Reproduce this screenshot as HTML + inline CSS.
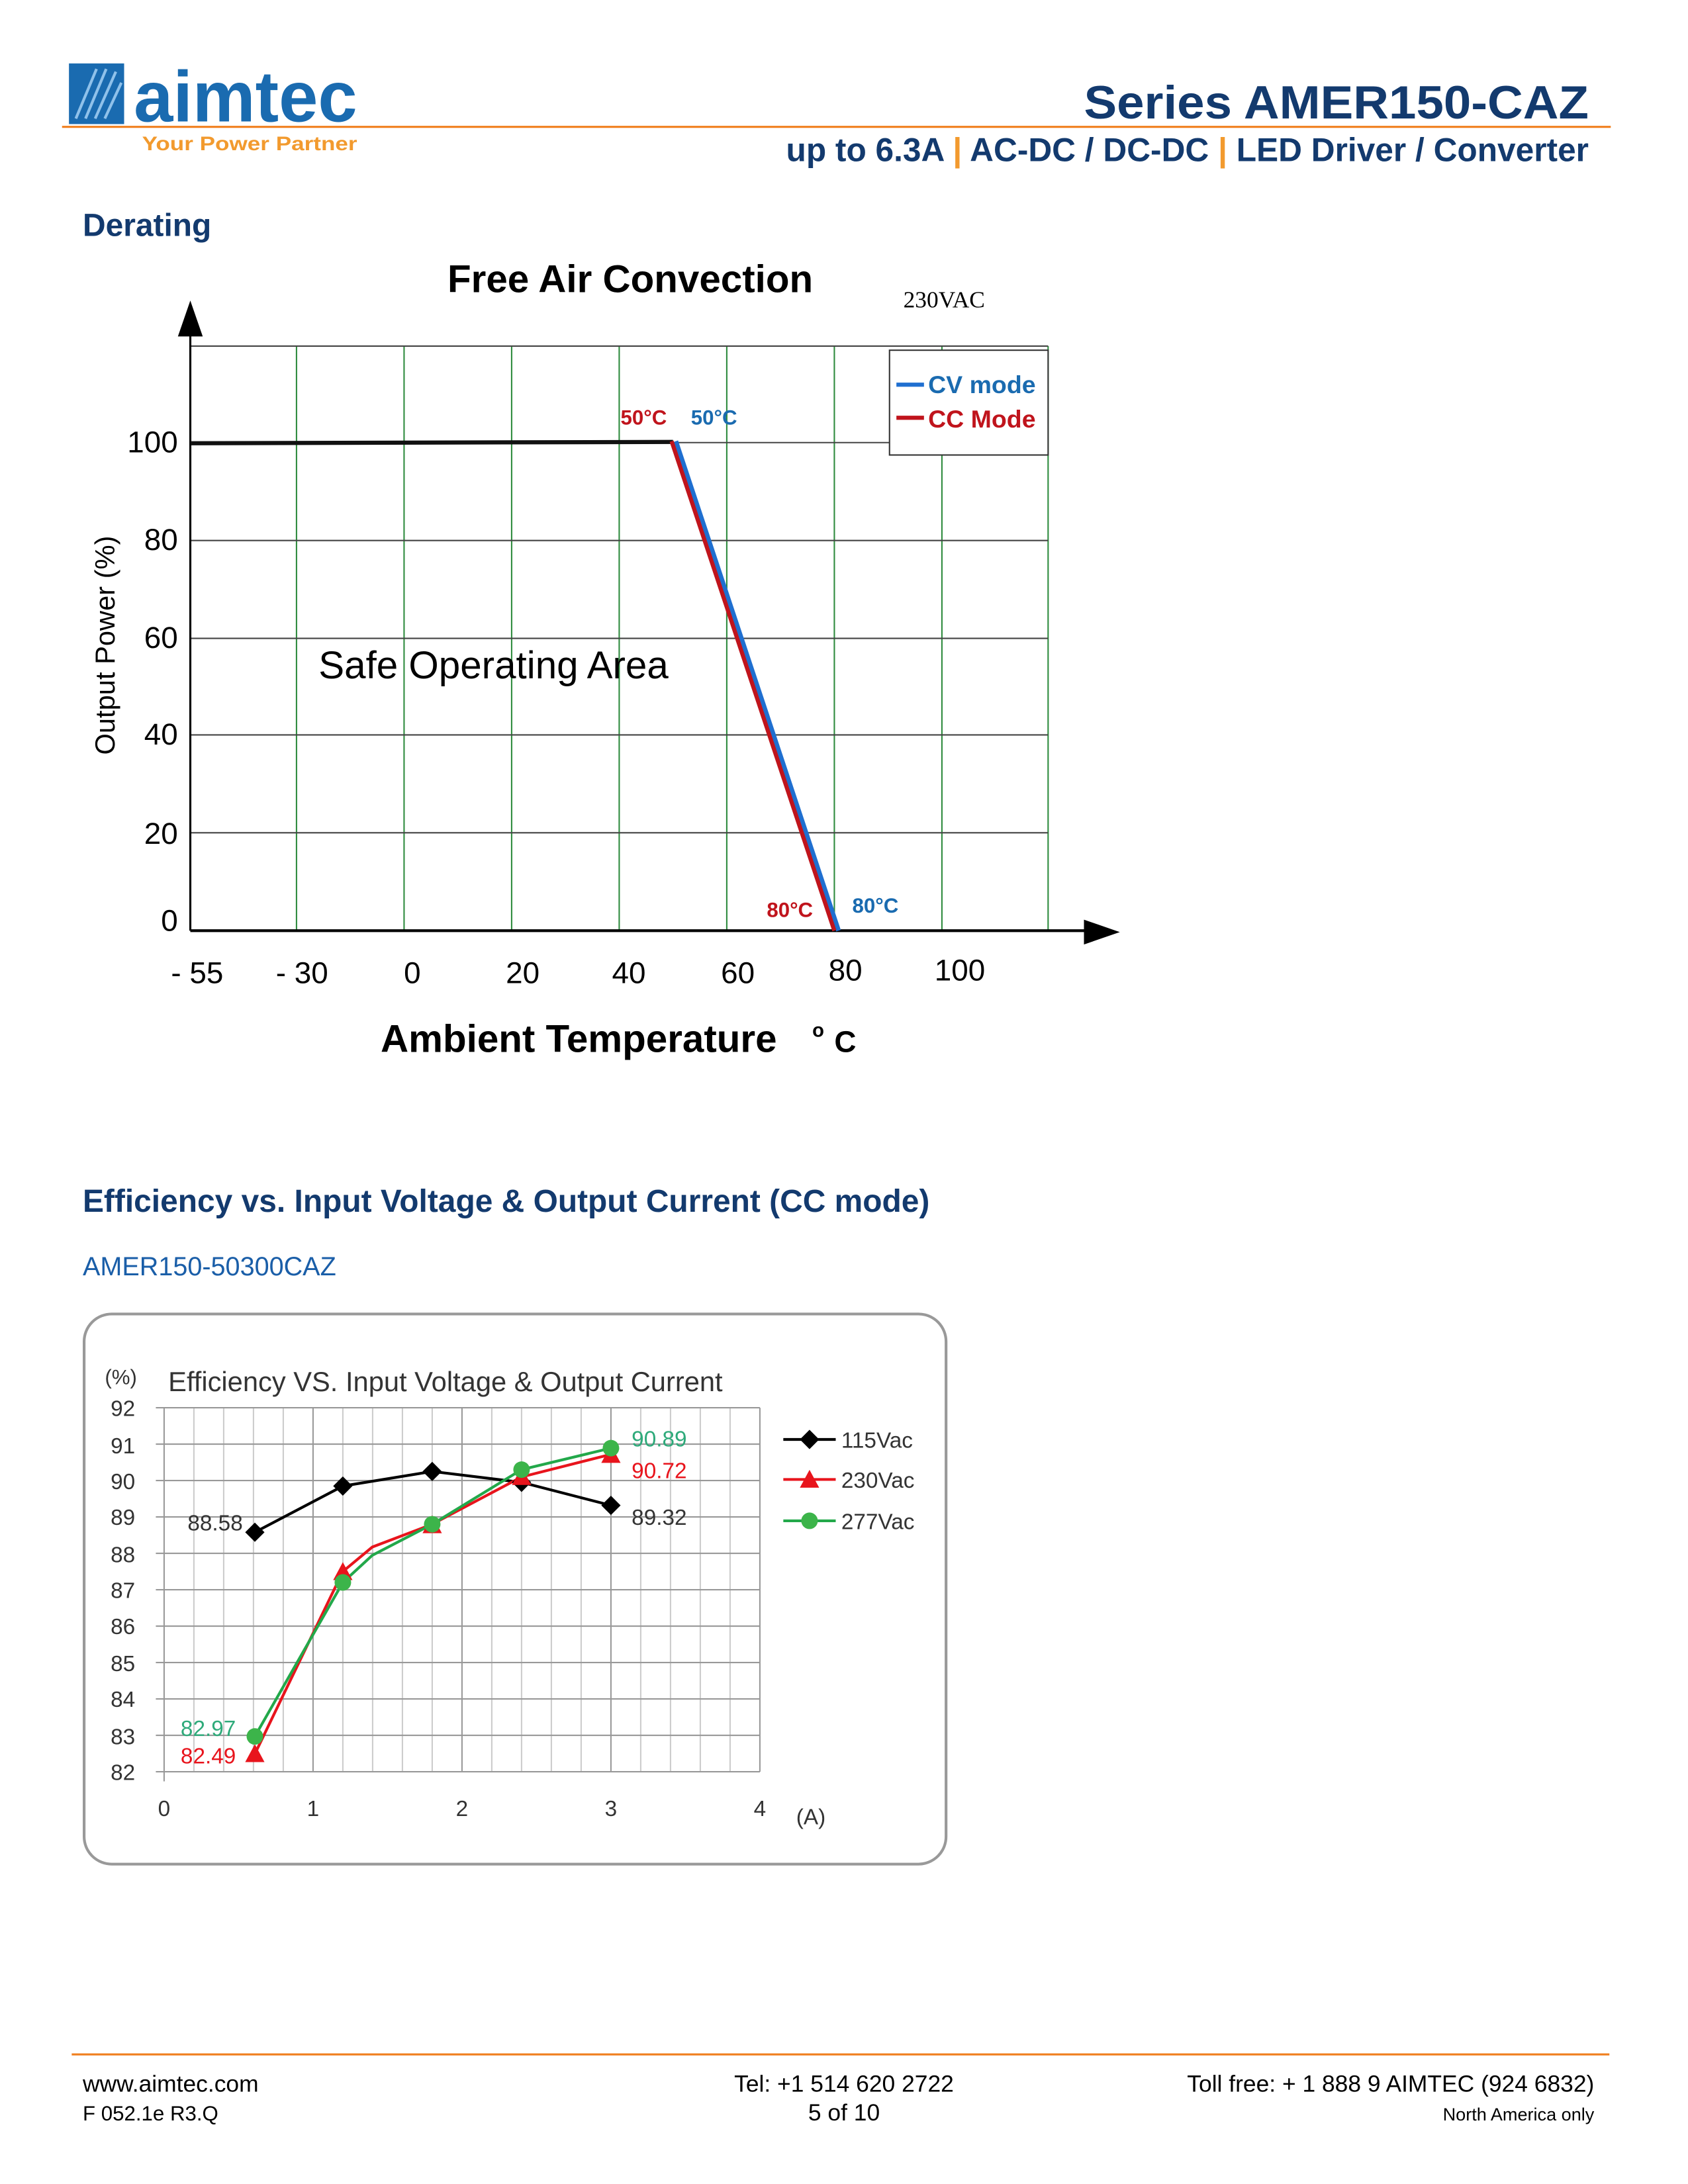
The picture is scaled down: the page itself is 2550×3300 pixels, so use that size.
<!DOCTYPE html>
<html><head><meta charset="utf-8"><style>
html,body{margin:0;padding:0;background:#fff;}
svg{display:block;}
text{font-family:"Liberation Sans",Arial,sans-serif;}
</style></head><body>
<svg width="2550" height="3300" viewBox="0 0 1224 1584" xmlns="http://www.w3.org/2000/svg">
<rect width="1224" height="1584" fill="#fff"/>
<!-- Header -->
<rect x="50" y="46" width="40" height="44" fill="#1a6bb0"/>
<path d="M55 86 L70 50 M62 86 L77 50 M69 86 L84 52 M76 86 L88 60" stroke="#8fc1ea" stroke-width="2"/>
<text x="97" y="88" font-size="52" font-weight="bold" fill="#1a6bb0" textLength="162" lengthAdjust="spacingAndGlyphs">aimtec</text>
<line x1="45" y1="92" x2="1168" y2="92" stroke="#f07f1e" stroke-width="1.5"/>
<text x="103" y="109" font-size="14" font-weight="bold" fill="#f29a2e" textLength="156" lengthAdjust="spacingAndGlyphs">Your Power Partner</text>
<text x="1152" y="86" font-size="34" font-weight="bold" fill="#133a6e" text-anchor="end" textLength="366" lengthAdjust="spacingAndGlyphs">Series AMER150-CAZ</text>
<text x="1152" y="117" font-size="24" font-weight="bold" fill="#133a6e" text-anchor="end" textLength="582" lengthAdjust="spacingAndGlyphs">up to 6.3A <tspan fill="#f29a2e">|</tspan> AC-DC / DC-DC <tspan fill="#f29a2e">|</tspan> LED Driver / Converter</text>
<text x="60" y="171" font-size="23" font-weight="bold" fill="#133a6e">Derating</text>

<!-- Derating chart -->
<text x="457" y="212" font-size="28" font-weight="bold" text-anchor="middle" fill="#000">Free Air Convection</text>
<text x="655" y="223" font-size="17" font-family="Liberation Serif,serif" fill="#000" style="font-family:'Liberation Serif',serif">230VAC</text>
<g stroke="#2e8b3e" stroke-width="1">
<line x1="215" y1="251" x2="215" y2="675"/><line x1="293" y1="251" x2="293" y2="675"/>
<line x1="371" y1="251" x2="371" y2="675"/><line x1="449" y1="251" x2="449" y2="675"/>
<line x1="527" y1="251" x2="527" y2="675"/><line x1="605" y1="251" x2="605" y2="675"/>
<line x1="683" y1="251" x2="683" y2="675"/><line x1="760" y1="251" x2="760" y2="675"/>
</g>
<g stroke="#444" stroke-width="1">
<line x1="138" y1="251" x2="760" y2="251"/><line x1="138" y1="321" x2="760" y2="321"/>
<line x1="138" y1="392" x2="760" y2="392"/><line x1="138" y1="463" x2="760" y2="463"/>
<line x1="138" y1="533" x2="760" y2="533"/><line x1="138" y1="604" x2="760" y2="604"/>
</g>
<line x1="138" y1="675" x2="795" y2="675" stroke="#000" stroke-width="2"/>
<polygon points="786,667 812,676 786,685" fill="#000"/>
<line x1="138" y1="675" x2="138" y2="238" stroke="#000" stroke-width="1.5"/>
<polygon points="129,244 138,218 147,244" fill="#000"/>
<g font-size="22" fill="#000" text-anchor="end">
<text x="129" y="328">100</text><text x="129" y="399">80</text><text x="129" y="470">60</text>
<text x="129" y="540">40</text><text x="129" y="612">20</text><text x="129" y="675">0</text>
</g>
<g font-size="22" fill="#000" text-anchor="middle">
<text x="143" y="713">- 55</text><text x="219" y="713">- 30</text><text x="299" y="713">0</text>
<text x="379" y="713">20</text><text x="456" y="713">40</text><text x="535" y="713">60</text>
<text x="613" y="711">80</text><text x="696" y="711">100</text>
</g>
<text transform="translate(83,468) rotate(-90)" font-size="20" text-anchor="middle" fill="#000">Output Power (%)</text>
<text x="276" y="763" font-size="28" font-weight="bold" fill="#000">Ambient Temperature</text>
<text x="589" y="752" font-size="14" font-weight="bold" fill="#000">o</text>
<text x="605" y="763" font-size="22" font-weight="bold" fill="#000">C</text>
<text x="231" y="492" font-size="28" fill="#000">Safe Operating Area</text>
<line x1="138" y1="321.5" x2="488" y2="320.5" stroke="#111" stroke-width="3"/>
<line x1="490" y1="320" x2="608" y2="675" stroke="#1f6fd0" stroke-width="3.5"/>
<line x1="487" y1="320" x2="605" y2="675" stroke="#c0141c" stroke-width="3"/>
<text x="450" y="308" font-size="15" font-weight="bold" fill="#c0141c">50°C</text>
<text x="501" y="308" font-size="15" font-weight="bold" fill="#1a6bb0">50°C</text>
<text x="556" y="665" font-size="15" font-weight="bold" fill="#c0141c">80°C</text>
<text x="618" y="662" font-size="15" font-weight="bold" fill="#1a6bb0">80°C</text>
<rect x="645" y="254" width="115" height="76" fill="#fff" stroke="#333" stroke-width="1"/>
<line x1="650" y1="279" x2="670" y2="279" stroke="#1f6fd0" stroke-width="3"/>
<text x="673" y="285" font-size="18" font-weight="bold" fill="#1a6bb0">CV mode</text>
<line x1="650" y1="303" x2="670" y2="303" stroke="#c0141c" stroke-width="3"/>
<text x="673" y="310" font-size="18" font-weight="bold" fill="#c0141c">CC Mode</text>

<!-- Efficiency -->
<text x="60" y="879" font-size="23" font-weight="bold" fill="#133a6e">Efficiency vs. Input Voltage &amp; Output Current (CC mode)</text>
<text x="60" y="925" font-size="19" fill="#1a5ea8">AMER150-50300CAZ</text>
<rect x="61" y="953" width="625" height="399" rx="20" fill="#fff" stroke="#999" stroke-width="2"/>
<text x="76" y="1004" font-size="15" fill="#333">(%)</text>
<text x="122" y="1009" font-size="20" fill="#333">Efficiency VS. Input Voltage &amp; Output Current</text>
<g stroke="#ccc" stroke-width="1">
<line x1="140.6" y1="1021" x2="140.6" y2="1285"/><line x1="162.2" y1="1021" x2="162.2" y2="1285"/><line x1="183.8" y1="1021" x2="183.8" y2="1285"/><line x1="205.4" y1="1021" x2="205.4" y2="1285"/>
<line x1="248.6" y1="1021" x2="248.6" y2="1285"/><line x1="270.2" y1="1021" x2="270.2" y2="1285"/><line x1="291.8" y1="1021" x2="291.8" y2="1285"/><line x1="313.4" y1="1021" x2="313.4" y2="1285"/>
<line x1="356.6" y1="1021" x2="356.6" y2="1285"/><line x1="378.2" y1="1021" x2="378.2" y2="1285"/><line x1="399.8" y1="1021" x2="399.8" y2="1285"/><line x1="421.4" y1="1021" x2="421.4" y2="1285"/>
<line x1="464.6" y1="1021" x2="464.6" y2="1285"/><line x1="486.2" y1="1021" x2="486.2" y2="1285"/><line x1="507.8" y1="1021" x2="507.8" y2="1285"/><line x1="529.4" y1="1021" x2="529.4" y2="1285"/>
</g>
<g stroke="#999" stroke-width="1">
<line x1="227" y1="1021" x2="227" y2="1285"/><line x1="335" y1="1021" x2="335" y2="1285"/><line x1="443" y1="1021" x2="443" y2="1285"/><line x1="551" y1="1021" x2="551" y2="1285"/>
<line x1="113" y1="1021" x2="551" y2="1021"/><line x1="113" y1="1047.4" x2="551" y2="1047.4"/><line x1="113" y1="1073.8" x2="551" y2="1073.8"/><line x1="113" y1="1100.2" x2="551" y2="1100.2"/>
<line x1="113" y1="1126.6" x2="551" y2="1126.6"/><line x1="113" y1="1153" x2="551" y2="1153"/><line x1="113" y1="1179.4" x2="551" y2="1179.4"/><line x1="113" y1="1205.8" x2="551" y2="1205.8"/>
<line x1="113" y1="1232.2" x2="551" y2="1232.2"/><line x1="113" y1="1258.6" x2="551" y2="1258.6"/><line x1="113" y1="1285" x2="551" y2="1285"/>
<line x1="119" y1="1021" x2="119" y2="1292"/>
</g>
<g font-size="16" fill="#333" text-anchor="end">
<text x="98" y="1027">92</text><text x="98" y="1054">91</text><text x="98" y="1080">90</text><text x="98" y="1106">89</text>
<text x="98" y="1133">88</text><text x="98" y="1159">87</text><text x="98" y="1185">86</text><text x="98" y="1212">85</text>
<text x="98" y="1238">84</text><text x="98" y="1265">83</text><text x="98" y="1291">82</text>
</g>
<g font-size="16" fill="#333" text-anchor="middle">
<text x="119" y="1317">0</text><text x="227" y="1317">1</text><text x="335" y="1317">2</text><text x="443" y="1317">3</text><text x="551" y="1317">4</text>
<text x="588" y="1323">(A)</text>
</g>
<polyline points="184.8,1111.3 248.6,1077.8 313.4,1067.2 378.2,1075.1 443,1091.8" fill="none" stroke="#000" stroke-width="2"/>
<polyline points="184.8,1272.1 248.6,1139.8 270,1122 313.4,1105.5 378.2,1071.2 443,1054.8" fill="none" stroke="#e8141c" stroke-width="2"/>
<polyline points="184.8,1259.4 248.6,1147.7 270,1128 313.4,1105.5 378.2,1065.9 443,1050.3" fill="none" stroke="#22a84a" stroke-width="2"/>
<g fill="#000">
<polygon points="184.8,1104.3 191.8,1111.3 184.8,1118.3 177.8,1111.3"/><polygon points="248.6,1070.8 255.6,1077.8 248.6,1084.8 241.6,1077.8"/>
<polygon points="313.4,1060.2 320.4,1067.2 313.4,1074.2 306.4,1067.2"/><polygon points="378.2,1068.1 385.2,1075.1 378.2,1082.1 371.2,1075.1"/>
<polygon points="443,1084.8 450,1091.8 443,1098.8 436,1091.8"/>
</g>
<g fill="#e8141c">
<polygon points="184.8,1265 191.8,1278 177.8,1278"/><polygon points="248.6,1133 255.6,1146 241.6,1146"/>
<polygon points="313.4,1099 320.4,1112 306.4,1112"/><polygon points="378.2,1064 385.2,1077 371.2,1077"/>
<polygon points="443,1048 450,1061 436,1061"/>
</g>
<g fill="#3cb44a">
<circle cx="184.8" cy="1259.4" r="6"/><circle cx="248.6" cy="1147.7" r="6"/><circle cx="313.4" cy="1105.5" r="6"/><circle cx="378.2" cy="1065.9" r="6"/><circle cx="443" cy="1050.3" r="6"/>
</g>
<g font-size="16">
<text x="136" y="1110" fill="#333">88.58</text>
<text x="458" y="1106" fill="#333">89.32</text>
<text x="458" y="1049" fill="#2eaa7a">90.89</text>
<text x="458" y="1072" fill="#e8141c">90.72</text>
<text x="131" y="1259" fill="#2eaa7a">82.97</text>
<text x="131" y="1279" fill="#e8141c">82.49</text>
</g>
<line x1="568" y1="1044" x2="606" y2="1044" stroke="#000" stroke-width="2"/>
<polygon points="587,1037 594,1044 587,1051 580,1044" fill="#000"/>
<text x="610" y="1050" font-size="16" fill="#333">115Vac</text>
<line x1="568" y1="1073" x2="606" y2="1073" stroke="#e8141c" stroke-width="2"/>
<polygon points="587,1066 594,1079 580,1079" fill="#e8141c"/>
<text x="610" y="1079" font-size="16" fill="#333">230Vac</text>
<line x1="568" y1="1103" x2="606" y2="1103" stroke="#22a84a" stroke-width="2"/>
<circle cx="587" cy="1103" r="6" fill="#3cb44a"/>
<text x="610" y="1109" font-size="16" fill="#333">277Vac</text>

<!-- Footer -->
<line x1="52" y1="1490" x2="1167" y2="1490" stroke="#f07f1e" stroke-width="1.5"/>
<text x="60" y="1517" font-size="17" fill="#000">www.aimtec.com</text>
<text x="60" y="1538" font-size="15" fill="#000">F 052.1e R3.Q</text>
<text x="612" y="1517" font-size="17" fill="#000" text-anchor="middle">Tel: +1 514 620 2722</text>
<text x="612" y="1538" font-size="17" fill="#000" text-anchor="middle">5 of 10</text>
<text x="1156" y="1517" font-size="17" fill="#000" text-anchor="end">Toll free: + 1 888 9 AIMTEC (924 6832)</text>
<text x="1156" y="1538" font-size="13" fill="#000" text-anchor="end">North America only</text>
</svg>
</body></html>
